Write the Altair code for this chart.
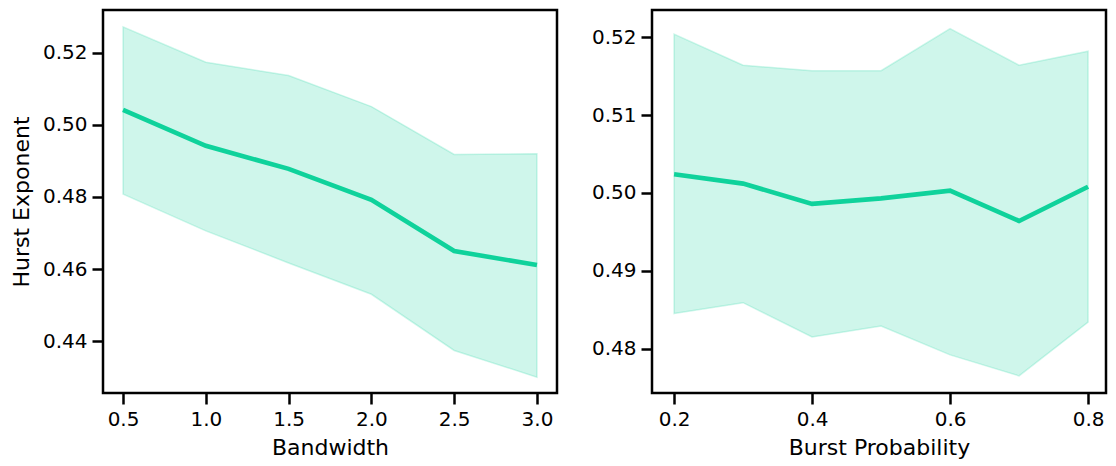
import altair as alt
import pandas as pd

# Left panel: Bandwidth
bw_x = [0.5, 1.0, 1.5, 2.0, 2.5, 3.0]
bw_mean = [0.5042, 0.4942, 0.4878, 0.4792, 0.4650, 0.4611]
bw_hi = [0.5272, 0.5174, 0.5137, 0.5051, 0.4918, 0.4920]
bw_lo = [0.4808, 0.4706, 0.4617, 0.4530, 0.4374, 0.4300]

# Right panel: Burst Probability
bp_x = [0.2, 0.3, 0.4, 0.5, 0.6, 0.7, 0.8]
bp_mean = [0.5024, 0.5012, 0.4986, 0.4993, 0.5003, 0.4964, 0.5008]
bp_hi = [0.5204, 0.5164, 0.5157, 0.5157, 0.5211, 0.5164, 0.5182]
bp_lo = [0.4845, 0.4859, 0.4815, 0.4829, 0.4792, 0.4765, 0.4834]

bw_xticks = [0.5, 1.0, 1.5, 2.0, 2.5, 3.0]
bw_yticks = [0.44, 0.46, 0.48, 0.50, 0.52]
bp_xticks = [0.2, 0.4, 0.6, 0.8]
bp_yticks = [0.48, 0.49, 0.50, 0.51, 0.52]

COLOR = "#0fd29b"
FONT = "DejaVu Sans"


def panel(xs, mean, lo, hi, xtitle, ytitle, xdom, ydom, xticks, yticks, yext, ytp):
    df = pd.DataFrame({"x": xs, "mean": mean, "lo": lo, "hi": hi})
    xenc = alt.X(
        "x:Q",
        scale=alt.Scale(domain=xdom, nice=False, zero=False),
        axis=alt.Axis(values=xticks, format=".1f", title=xtitle),
    )
    yaxis_kwargs = dict(values=yticks, format=".2f", minExtent=yext, maxExtent=yext)
    if ytitle:
        yaxis_kwargs["title"] = ytitle
        yaxis_kwargs["titlePadding"] = ytp
    else:
        yaxis_kwargs["title"] = None
    yscale = alt.Scale(domain=ydom, nice=False, zero=False)
    area = alt.Chart(df).mark_area(
        color=COLOR, fillOpacity=0.2, stroke=COLOR, strokeOpacity=0.2, strokeWidth=1.5
    ).encode(
        x=xenc,
        y=alt.Y("lo:Q", scale=yscale, axis=alt.Axis(**yaxis_kwargs)),
        y2="hi:Q",
    )
    line = alt.Chart(df).mark_line(color=COLOR, strokeWidth=4.6).encode(
        x=xenc,
        y=alt.Y("mean:Q", scale=yscale, axis=alt.Axis(**yaxis_kwargs)),
    )
    return alt.layer(area, line).properties(width=454, height=383)


left = panel(bw_x, bw_mean, bw_lo, bw_hi, "Bandwidth", "Hurst Exponent",
             [0.379, 3.121], [0.4256, 0.5319], bw_xticks, bw_yticks, 64, 6)
right = panel(bp_x, bp_mean, bp_lo, bp_hi, "Burst Probability", None,
              [0.168, 0.826], [0.4743, 0.5235], bp_xticks, bp_yticks, 64, 6)

chart = alt.hconcat(left, right, spacing=27).properties(
    padding={"left": 0, "top": 0, "right": 0, "bottom": 0},
    background="white",
).configure_view(
    stroke="black", strokeWidth=2.5
).configure_axis(
    domain=False,
    grid=False,
    ticks=True,
    tickColor="black",
    tickWidth=2.5,
    tickSize=11,
    labelFont=FONT,
    labelFontSize=20,
    labelColor="black",
    labelPadding=5,
    titleFont=FONT,
    titleFontSize=22,
    titleFontWeight="normal",
    titleColor="black",
    titlePadding=8,
)

chart.save("out.html", embed_options={"renderer": "svg", "actions": False})
